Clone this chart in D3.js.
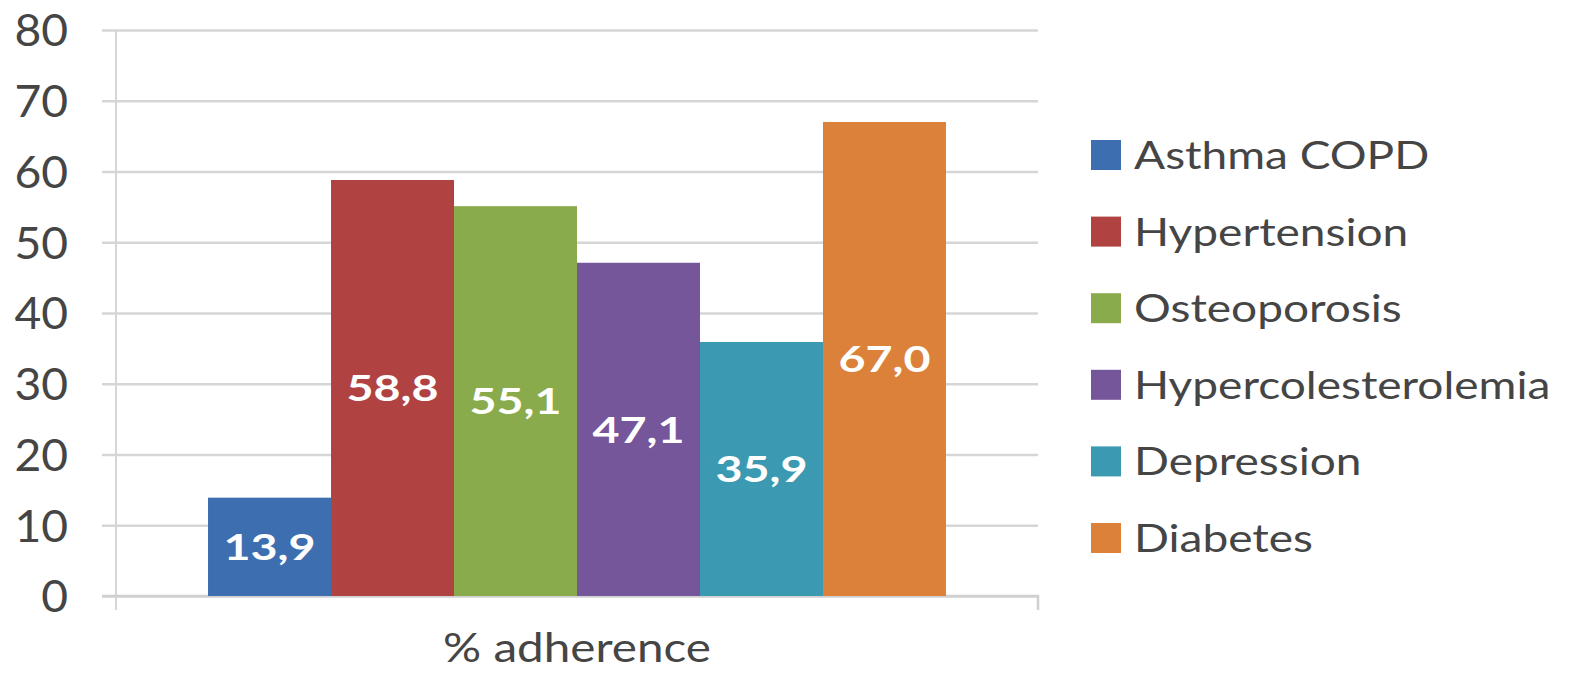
<!DOCTYPE html>
<html>
<head>
<meta charset="utf-8">
<script src="https://cdn.jsdelivr.net/npm/d3@7"></script>
<style>
  html, body { margin: 0; padding: 0; background: #ffffff; }
  svg { display: block; }
</style>
</head>
<body>
<svg id="chart" width="1570" height="683"></svg>
<script>
// Adherence by chronic condition
const groups = ["% adherence"];
const conditions = ["Asthma COPD", "Hypertension", "Osteoporosis", "Hypercolesterolemia", "Depression", "Diabetes"];
const adherence = [13.9, 58.8, 55.1, 47.1, 35.9, 67.0];
const yTicks = [0, 10, 20, 30, 40, 50, 60, 70, 80];
const colors = ["#3d6eb0", "#b04341", "#8aab4c", "#75569a", "#3b99b1", "#dc8139"];

const svg = d3.select("#chart");
const font = "Lato, 'Open Sans', sans-serif";
const textColor = "#454545";

const plot = { left: 116, right: 1038, top: 30, bottom: 596 };

const y = d3.scaleLinear().domain([0, 80]).range([plot.bottom, plot.top]);
const x0 = d3.scaleBand().domain(groups).range([plot.left, plot.right])
  .paddingInner(0).paddingOuter(0.1247);
const x1 = d3.scaleBand().domain(conditions).range([0, x0.bandwidth()]).padding(0);
const color = d3.scaleOrdinal().domain(conditions).range(colors);

// Horizontal gridlines with short ticks left of the axis
const yAxis = d3.axisLeft(y).tickValues(yTicks)
  .tickSize(-(plot.right - plot.left)).tickPadding(48).tickFormat(d3.format("d"));
const gy = svg.append("g").attr("transform", `translate(${plot.left},0)`).call(yAxis);
gy.select(".domain").remove();
gy.selectAll(".tick line").attr("stroke", "#d6d6d6").attr("stroke-width", 2.5)
  .attr("x1", -14);
gy.selectAll(".tick text").attr("font-family", font).attr("font-size", 44)
  .attr("fill", textColor).attr("dy", "0.36em")
  .attr("x", 0).attr("transform", "translate(-48,0) scale(1.05,1)");

// Vertical axis line
svg.append("line")
  .attr("x1", plot.left).attr("x2", plot.left)
  .attr("y1", y(80)).attr("y2", plot.bottom + 14)
  .attr("stroke", "#d6d6d6").attr("stroke-width", 2);

// Category axis with end ticks
const xAxis = d3.axisBottom(x0).tickSize(0).tickPadding(36);
const gx = svg.append("g").attr("transform", `translate(0,${plot.bottom})`).call(xAxis);
gx.select(".domain").attr("stroke", "#d0d0d0").attr("stroke-width", 2.5)
  .attr("d", `M${plot.left - 14},0H${plot.right}V14`);
gx.selectAll(".tick text").attr("font-family", font).attr("font-size", 40)
  .attr("fill", textColor).attr("dy", "0.71em")
  .attr("y", 0).attr("transform", "translate(0,38) scale(1.19,1)");

// Bars
const g = svg.append("g").attr("transform", `translate(${x0(groups[0])},0)`);
const data = conditions.map((c, i) => ({ name: c, value: adherence[i] }));

g.selectAll("rect.bar").data(data).join("rect")
  .attr("class", "bar")
  .attr("x", d => x1(d.name))
  .attr("y", d => y(d.value))
  .attr("width", x1.bandwidth())
  .attr("height", d => y(0) - y(d.value))
  .attr("fill", d => color(d.name));

// Value labels centred in each bar
const fmt = d3.formatLocale({ decimal: ",", thousands: ".", grouping: [3], currency: ["", ""] }).format(".1f");
g.selectAll("text.val").data(data).join("text")
  .attr("class", "val")
  .attr("transform", d => `translate(${x1(d.name) + x1.bandwidth() / 2},${(y(d.value) + y(0)) / 2}) scale(1.26,1)`)
  .attr("text-anchor", "middle")
  .attr("dy", "0.36em")
  .attr("font-family", font).attr("font-weight", "bold").attr("font-size", 37)
  .attr("fill", "#ffffff")
  .text(d => fmt(d.value));

// Legend
const legend = svg.append("g").attr("transform", "translate(1091,0)");
const rowY = d3.scalePoint().domain(conditions).range([155, 538]);
const items = legend.selectAll("g.item").data(conditions).join("g")
  .attr("class", "item")
  .attr("transform", d => `translate(0,${rowY(d)})`);
items.append("rect")
  .attr("x", 0).attr("y", -15).attr("width", 30).attr("height", 30)
  .attr("fill", d => color(d));
items.append("text")
  .attr("transform", "translate(43,0) scale(1.18,1)")
  .attr("dy", "0.36em")
  .attr("font-family", font).attr("font-size", 39)
  .attr("fill", textColor)
  .text(d => d);
</script>
</body>
</html>
